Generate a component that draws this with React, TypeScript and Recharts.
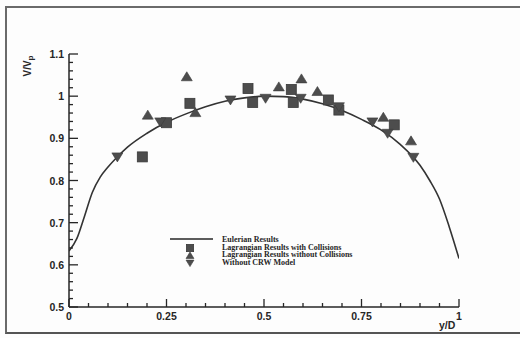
import React from 'react';
import { ComposedChart, Line, Scatter, XAxis, YAxis } from 'recharts';

// Eulerian solution (y/D, V/Vp)
const curveX = [0, 0.02, 0.04, 0.06, 0.08, 0.1, 0.125, 0.15, 0.2, 0.25, 0.3, 0.35, 0.4, 0.45, 0.5, 0.55, 0.6, 0.65, 0.7, 0.75, 0.8, 0.85, 0.9, 0.925, 0.95, 0.975, 1];
const curveV = [0.633, 0.662, 0.716, 0.772, 0.808, 0.832, 0.857, 0.879, 0.912, 0.938, 0.958, 0.975, 0.988, 0.996, 1.0, 0.999, 0.993, 0.982, 0.966, 0.945, 0.92, 0.885, 0.836, 0.8, 0.756, 0.69, 0.615];

// Lagrangian results with collisions
const withX = [0.188, 0.25, 0.31, 0.459, 0.471, 0.57, 0.575, 0.665, 0.692, 0.834];
const withV = [0.856, 0.937, 0.983, 1.018, 0.985, 1.016, 0.985, 0.991, 0.967, 0.932];

// Lagrangian results without collisions
const withoutX = [0.202, 0.302, 0.324, 0.538, 0.596, 0.637, 0.806, 0.877];
const withoutV = [0.955, 1.046, 0.961, 1.022, 1.041, 1.011, 0.95, 0.894];

// Without CRW model
const crwX = [0.124, 0.234, 0.414, 0.504, 0.594, 0.692, 0.778, 0.817, 0.883];
const crwV = [0.856, 0.939, 0.991, 0.995, 0.995, 0.975, 0.939, 0.912, 0.855];

const xTicks = [0, 0.05, 0.1, 0.15, 0.2, 0.25, 0.3, 0.35, 0.4, 0.45, 0.5, 0.55, 0.6, 0.65, 0.7, 0.75, 0.8, 0.85, 0.9, 0.95, 1];
const xMajor = ['0', '0.25', '0.5', '0.75', '1'];
const yTicks = [0.5, 0.52, 0.54, 0.56, 0.58, 0.6, 0.62, 0.64, 0.66, 0.68, 0.7, 0.72, 0.74, 0.76, 0.78, 0.8, 0.82, 0.84, 0.86, 0.88, 0.9, 0.92, 0.94, 0.96, 0.98, 1, 1.02, 1.04, 1.06, 1.08, 1.1];
const yMajor = ['0.5', '0.6', '0.7', '0.8', '0.9', '1', '1.1'];

const legendLabels = [
  'Eulerian Results',
  'Lagrangian Results with Collisions',
  'Lagrangian Results without Collisions',
  'Without CRW Model',
];

const toPoints = (xs: number[], vs: number[]) => xs.map((x, i) => ({ x, v: vs[i] }));

const curveData = toPoints(curveX, curveV);
const withData = toPoints(withX, withV);
const withoutData = toPoints(withoutX, withoutV);
const crwData = toPoints(crwX, crwV);

const INK = '#262626';
const MARK = '#4d4d4d';
const TICK_FONT = '"Liberation Sans", Arial, sans-serif';

function SquareMark({ cx, cy, s = 5 }: any) {
  return <rect x={cx - s} y={cy - s} width={2 * s} height={2 * s} fill={MARK} stroke="#3a3a3a" strokeWidth={0.8} />;
}

function UpMark({ cx, cy, s = 5 }: any) {
  return <polygon points={`${cx},${cy - s} ${cx + s * 1.1},${cy + s * 0.8} ${cx - s * 1.1},${cy + s * 0.8}`} fill={MARK} stroke="#3a3a3a" strokeWidth={0.6} />;
}

function DownMark({ cx, cy, s = 5 }: any) {
  return <polygon points={`${cx - s * 1.1},${cy - s * 0.8} ${cx + s * 1.1},${cy - s * 0.8} ${cx},${cy + s}`} fill={MARK} stroke="#3a3a3a" strokeWidth={0.6} />;
}

function XTick({ x, y, payload }: any) {
  const label = xMajor.find((t) => Math.abs(Number(t) - payload.value) < 1e-6);
  const len = label ? 8 : 4;
  return (
    <g>
      <line x1={x} y1={y} x2={x} y2={y - len} stroke={INK} strokeWidth={1.3} />
      {label && (
        <text x={x} y={y + 13} textAnchor="middle" fontSize={10.5} fontWeight="bold" fontFamily={TICK_FONT} fill={INK}>
          {label}
        </text>
      )}
    </g>
  );
}

function YTick({ x, y, payload }: any) {
  const label = yMajor.find((t) => Math.abs(Number(t) - payload.value) < 1e-6);
  const len = label ? 9 : 4;
  return (
    <g>
      <line x1={x} y1={y} x2={x + len} y2={y} stroke={INK} strokeWidth={1.3} />
      {label && (
        <text x={x - 5} y={y + 4} textAnchor="end" fontSize={10.5} fontWeight="bold" fontFamily={TICK_FONT} fill={INK}>
          {label}
        </text>
      )}
    </g>
  );
}

function LegendBox() {
  return (
    <svg width={260} height={36} style={{ position: 'absolute', left: 150, top: 232, overflow: 'visible' }}>
      <line x1={20} y1={7} x2={63} y2={7} stroke={INK} strokeWidth={1.3} />
      <SquareMark cx={40} cy={16} s={3.6} />
      <UpMark cx={40} cy={23.6} s={3.6} />
      <DownMark cx={40} cy={31} s={3.6} />
      {legendLabels.map((t, i) => (
        <text
          key={t}
          x={72}
          y={10 + i * 7.7}
          fontSize={8}
          fontWeight="bold"
          fontFamily='"Liberation Serif", "Times New Roman", serif'
          fill={INK}
        >
          {t}
        </text>
      ))}
    </svg>
  );
}

export default function App() {
  return (
    <div style={{ position: 'absolute', left: 0, top: 0, width: 520, height: 338, background: '#fdfdfd', overflow: 'hidden' }}>
      {/* scanned figure frame */}
      <div
        style={{
          position: 'absolute',
          left: 5,
          top: 6,
          width: 530,
          height: 328,
          borderTop: '2px solid #6a6a6a',
          borderLeft: '2px solid #6a6a6a',
          borderBottom: '2px solid #555',
          boxSizing: 'border-box',
        }}
      />
      <ComposedChart
        width={520}
        height={338}
        margin={{ top: 54, right: 61, left: 29, bottom: 11 }}
        style={{ position: 'absolute', left: 0, top: 0 }}
      >
        <XAxis
          type="number"
          dataKey="x"
          domain={[0, 1]}
          ticks={xTicks}
          interval={0}
          height={20}
          tickSize={0}
          tickMargin={0}
          tickLine={false}
          axisLine={{ stroke: INK, strokeWidth: 1.5 }}
          tick={<XTick />}
          allowDataOverflow
        />
        <YAxis
          type="number"
          dataKey="v"
          domain={[0.5, 1.1]}
          ticks={yTicks}
          interval={0}
          width={40}
          tickSize={0}
          tickMargin={0}
          tickLine={false}
          axisLine={{ stroke: INK, strokeWidth: 1.5 }}
          tick={<YTick />}
          allowDataOverflow
        />
        <Line
          data={curveData}
          dataKey="v"
          type="monotone"
          stroke="#333"
          strokeWidth={1.6}
          dot={false}
          activeDot={false}
          isAnimationActive={false}
        />
        <Scatter data={withData} dataKey="v" shape={<SquareMark />} isAnimationActive={false} />
        <Scatter data={withoutData} dataKey="v" shape={<UpMark />} isAnimationActive={false} />
        <Scatter data={crwData} dataKey="v" shape={<DownMark />} isAnimationActive={false} />
      </ComposedChart>
      <LegendBox />
      {/* axis titles */}
      <svg width={60} height={100} style={{ position: 'absolute', left: 0, top: 20, overflow: 'visible' }}>
        <text
          transform="translate(31,46) rotate(-90)"
          textAnchor="middle"
          fontSize={10}
          fontWeight="bold"
          fontFamily={TICK_FONT}
          fill={INK}
        >
          V/V<tspan fontSize={8} dy={2}>p</tspan>
        </text>
      </svg>
      <div
        style={{
          position: 'absolute',
          left: 439,
          top: 319,
          fontSize: 10.5,
          fontWeight: 'bold',
          fontFamily: TICK_FONT,
          color: INK,
        }}
      >
        y/D
      </div>
    </div>
  );
}
